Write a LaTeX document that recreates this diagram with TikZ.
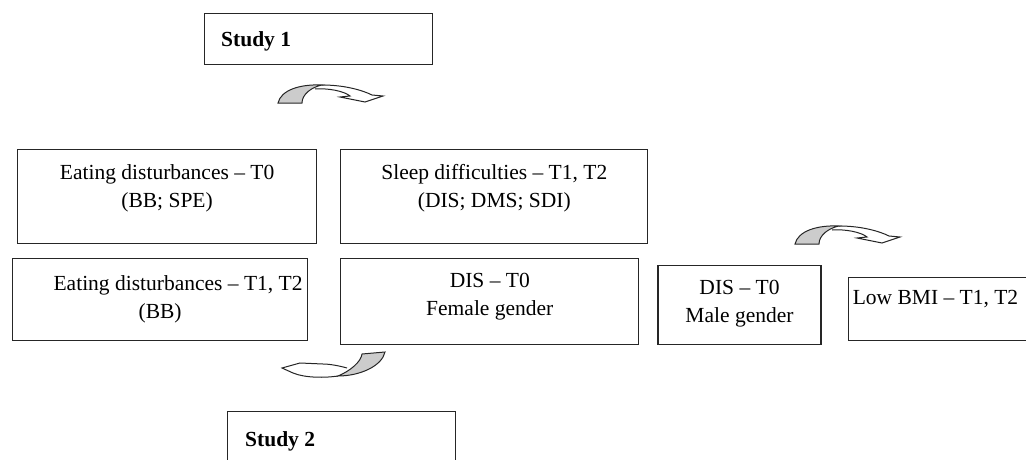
\documentclass[tikz,border=0pt]{standalone}
\usepackage{fontspec}
\setmainfont{Liberation Serif}
\usetikzlibrary{positioning}

\begin{document}
\begin{tikzpicture}[x=1pt, y=-1pt,
        caja/.style={draw=black!85, line width=1.2pt, inner sep=0pt, anchor=north west},
        rotulo/.style={anchor=base, align=center, inner sep=0pt, font=\fontsize{21.5}{28}\selectfont},
        titulo/.style={anchor=base west, inner sep=0pt, font=\fontsize{21.5}{28}\selectfont\bfseries},
        giro/.pic={
            \draw[black!85, line width=1pt] (37,-14) .. controls (50,-15) and (66,-12) .. (72,-7)
                -- (62,-6) -- (87,-1) -- (105,-7) -- (94,-8) .. controls (84,-13) and (66,-18) .. (44,-18);
            \draw[black!85, fill=black!20, line width=1pt] (0,0) .. controls (3,-13) and (22,-19) .. (44,-18)
                .. controls (34,-16) and (24,-9) .. (24,0) -- cycle;
        }
    ]
    \useasboundingbox (0,0) rectangle (1026,460);
    \clip (0,0) rectangle (1026,460);

    \node (estudio1) [caja, minimum width=228pt, minimum height=51pt,
        label={[titulo, xshift=17pt, yshift=-34pt]north west:Study 1}] at (204,13) {};

    \node (ed0) [caja, minimum width=299pt, minimum height=94pt,
        label={[rotulo, yshift=-58pt]north:{Eating disturbances -- T0\\(BB; SPE)}}] at (17,149) {};
    \node (sd12) [caja, minimum width=307pt, minimum height=94pt, right=23pt of ed0.north east, anchor=north west,
        label={[rotulo, yshift=-58pt]north:{Sleep difficulties -- T1, T2\\(DIS; DMS; SDI)}}] {};

    \node (ed12) [caja, minimum width=295pt, minimum height=82pt, below left=14pt and 5pt of ed0.south west, anchor=north west,
        label={[rotulo, yshift=-60pt]north:{\hspace*{36pt}Eating disturbances -- T1, T2\\(BB)}}] {};
    \node (disf) [caja, minimum width=298pt, minimum height=86pt, below=14pt of sd12.south west, anchor=north west,
        label={[rotulo, yshift=-57pt]north:{DIS -- T0\\Female gender}}] {};
    \node (dism) [caja, minimum width=163pt, minimum height=79pt] at ([xshift=18pt, yshift=-7pt]disf.north east)
        [label={[rotulo, yshift=-57pt]north:{DIS -- T0\\Male gender}}] {};
    \node (bmi) [caja, minimum width=200pt, minimum height=63pt] at ([xshift=26pt, yshift=-12pt]dism.north east)
        [label={[rotulo, anchor=base west, xshift=5pt, yshift=-27pt]north west:{Low BMI -- T1, T2}}] {};

    \node (estudio2) [caja, minimum width=228pt, minimum height=64pt,
        label={[titulo, xshift=18pt, yshift=-35pt]north west:Study 2}] at (227,411) {};

    % curved arrows
    \pic at (278,103) {giro};
    \pic at (795,244) {giro};
    \draw[black!85, line width=1pt] (347,368) .. controls (340,366) and (330,364) .. (323,364)
        -- (300,363) -- (282,368) -- (293,373) .. controls (305,378) and (325,378) .. (338,376);
    \draw[black!85, fill=black!20, line width=1pt] (385,352) .. controls (382,366) and (360,376) .. (338,376)
        .. controls (350,371) and (361,362) .. (362,354) -- cycle;
\end{tikzpicture}
\end{document}
